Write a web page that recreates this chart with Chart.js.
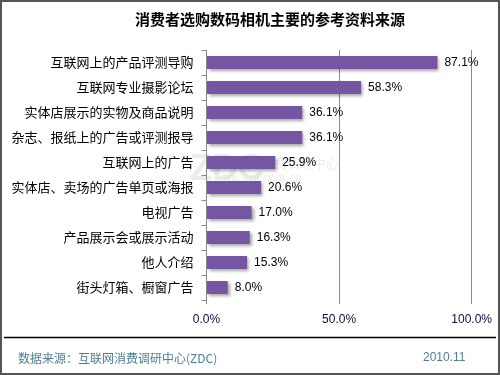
<!DOCTYPE html>
<html><head><meta charset="utf-8">
<script src="https://cdn.jsdelivr.net/npm/chart.js@4/dist/chart.umd.min.js"></script>
<style>html,body{margin:0;padding:0;background:#fff}#wrap{width:500px;height:375px;position:relative}</style>
</head><body><div id="wrap"><canvas id="c" width="500" height="375"></canvas></div>
<script>
const categories = ["互联网上的产品评测导购","互联网专业摄影论坛","实体店展示的实物及商品说明","杂志、报纸上的广告或评测报导","互联网上的广告","实体店、卖场的广告单页或海报","电视广告","产品展示会或展示活动","他人介绍","街头灯箱、橱窗广告"];
const values = [87.1,58.3,36.1,36.1,25.9,20.6,17.0,16.3,15.3,8.0];
const xTicks = [0,50,100];
const titleText = "消费者选购数码相机主要的参考资料来源";
const sourceText = "数据来源：互联网消费调研中心(ZDC)";
const dateText = "2010.11";
const FONT = "'Noto Sans CJK SC', 'Liberation Sans', sans-serif";

const decor = {
  id:'decor',
  beforeDraw(chart){
    const ctx=chart.ctx;
    ctx.save();
    ctx.fillStyle='#fff';ctx.fillRect(0,0,500,375);
    ctx.fillStyle='rgba(200,200,200,0.35)';
    ctx.font="bold 36px 'Liberation Sans', sans-serif";
    ctx.textBaseline='middle';
    ctx.fillText('ZDC',190,170);
    ctx.font="13px "+FONT;
    ctx.fillText('互联网消费调研中心',222,163);
    ctx.font="12px 'Liberation Sans', sans-serif";
    ctx.fillText('zdc.zol.com.cn',222,179);
    ctx.restore();
  },
  afterDraw(chart){
    const ctx=chart.ctx;
    ctx.save();
    ctx.fillStyle='#000';
    ctx.font="bold 15px "+FONT;
    ctx.textAlign='center';ctx.textBaseline='middle';
    ctx.fillText(titleText,270,19);
    ctx.strokeStyle='#000';ctx.lineWidth=1.5;
    ctx.beginPath();ctx.moveTo(4,337.5);ctx.lineTo(496,337.5);ctx.stroke();
    ctx.fillStyle='#4E7F95';
    ctx.font="12px "+FONT;
    ctx.textAlign='left';
    ctx.fillText(sourceText,18,358);
    ctx.font="12px 'Liberation Sans', sans-serif";
    ctx.fillText(dateText,423,358);
    ctx.strokeStyle='#555';ctx.lineWidth=2;
    ctx.strokeRect(1,1,498,373);
    ctx.restore();
  }
};
const labels = {
  id:'labels',
  afterDatasetsDraw(chart){
    const ctx=chart.ctx;const meta=chart.getDatasetMeta(0);
    ctx.save();
    ctx.fillStyle='#000';ctx.font="12px 'Liberation Sans', sans-serif";
    ctx.textBaseline='middle';ctx.textAlign='left';
    meta.data.forEach((b,i)=>{ctx.fillText(values[i].toFixed(1)+'%',b.x+7,b.y);});
    ctx.restore();
  }
};
const shadow = {
  id:'shadow',
  beforeDatasetDraw(chart){const c=chart.ctx;c.save();c.shadowColor='rgba(0,0,0,0.35)';c.shadowOffsetX=2;c.shadowOffsetY=2;c.shadowBlur=3;},
  afterDatasetDraw(chart){chart.ctx.restore();}
};
new Chart(document.getElementById('c'),{
  type:'bar',
  data:{labels:categories,datasets:[{data:values,
    backgroundColor:(cx)=>{const ch=cx.chart;const el=cx.element;
      if(!el||!ch.chartArea)return '#7456A3';
      const h=el.height;const y=el.y;
      if(!isFinite(h)||!isFinite(y)||h<=0)return '#7456A3';
      const g=ch.ctx.createLinearGradient(0,y-h/2,0,y+h/2);
      g.addColorStop(0,'#8663B5');g.addColorStop(0.5,'#7655A6');g.addColorStop(1,'#5B4088');return g;},
    barPercentage:0.52,categoryPercentage:1,borderWidth:0}]},
  options:{
    indexAxis:'y',responsive:false,animation:false,devicePixelRatio:1,
    layout:{padding:{top:50,right:27.5,left:0,bottom:0}},
    plugins:{legend:{display:false},tooltip:{enabled:false},title:{display:false}},
    scales:{
      x:{min:0,max:100,
        afterBuildTicks(s){s.ticks=xTicks.map(v=>({value:v}));},
        afterFit(s){s.height=75;},
        ticks:{callback:v=>v.toFixed(1)+'%',color:'#0B0B3B',font:{size:12,family:"'Liberation Sans', sans-serif"},padding:8,maxRotation:0},
        grid:{color:(c)=>c.tick&&c.tick.value===0?'rgba(0,0,0,0)':'#8a8a8a',tickColor:'#8a8a8a',tickLength:4,drawTicks:true},
        border:{display:false}},
      y:{afterFit(s){s.width=206.5;},
        ticks:{color:'#000',font:{size:13,family:FONT},padding:8,autoSkip:false},
        grid:{offset:true,drawOnChartArea:false,color:'#8a8a8a',tickLength:5},
        border:{display:true,color:'#8a8a8a',width:1}}
    }
  },
  plugins:[decor,shadow,labels]
});
</script></body></html>
